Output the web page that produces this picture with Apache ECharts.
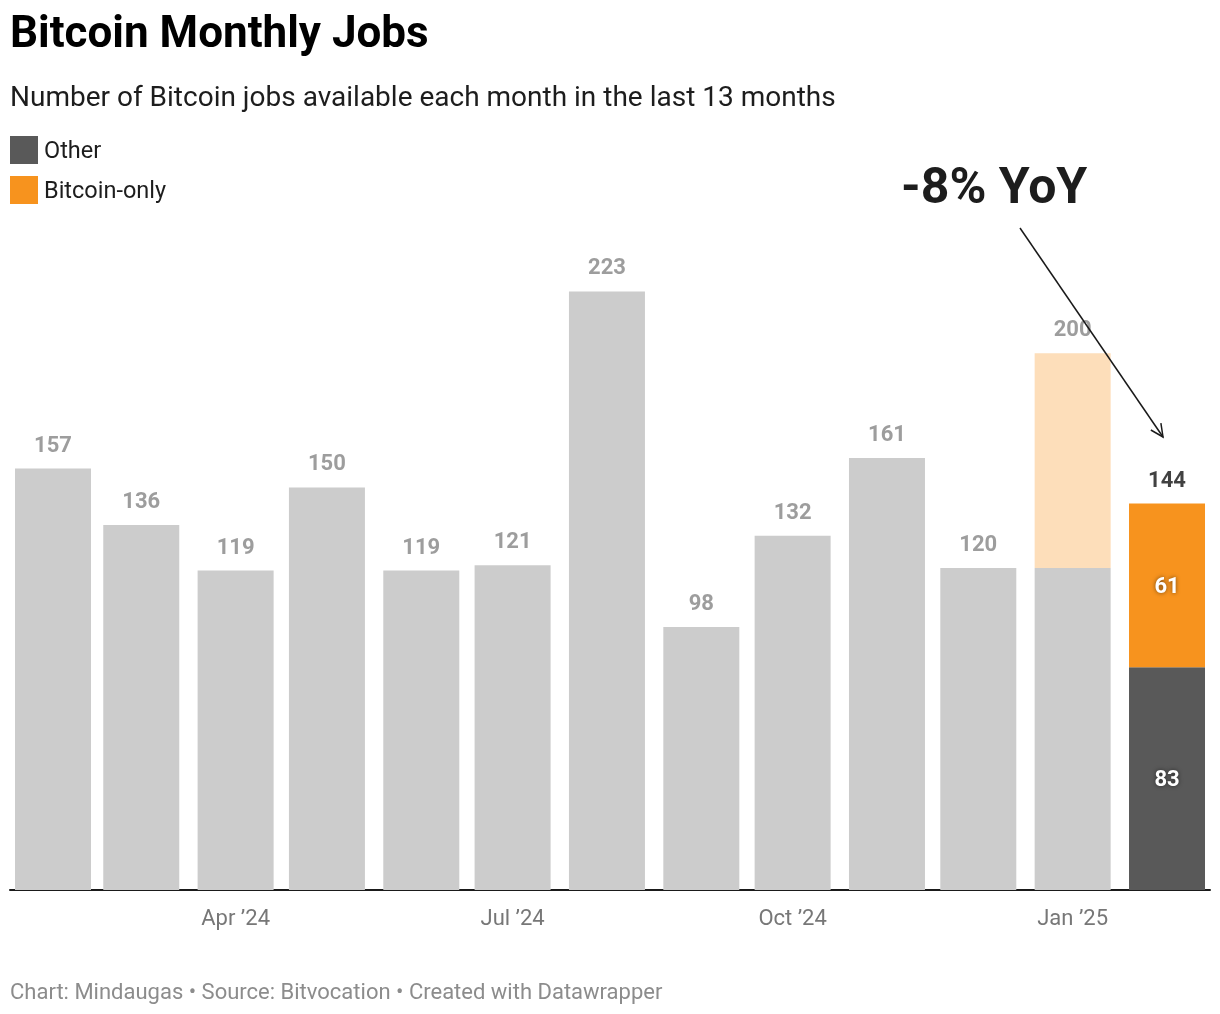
<!DOCTYPE html>
<html>
<head>
<meta charset="utf-8">
<script src="https://cdn.jsdelivr.net/npm/echarts@6/dist/echarts.min.js"></script>
<style>
  html, body { margin: 0; padding: 0; background: #fff; }
  #main { width: 1220px; height: 1014px; }
</style>
</head>
<body>
<div id="main"></div>
<script>
// months shown, first of each month
var months = ['2024-02', '2024-03', '2024-04', '2024-05', '2024-06', '2024-07', '2024-08',
              '2024-09', '2024-10', '2024-11', '2024-12', '2025-01', '2025-02'];
// jobs not tagged bitcoin-only (earlier months are totals, shown in gray)
var otherJobs = [157, 136, 119, 150, 119, 121, 223, 98, 132, 161, 120, 120, 83];
// bitcoin-only jobs, only split out for the last two months
var bitcoinOnly = [null, null, null, null, null, null, null, null, null, null, null, 80, 61];
var monthNames = ['Jan', 'Feb', 'Mar', 'Apr', 'May', 'Jun', 'Jul', 'Aug', 'Sep', 'Oct', 'Nov', 'Dec'];

function toTime(s) {
  var p = s.split('-');
  return new Date(+p[0], +p[1] - 1, 1).getTime();
}

var DAY = 86400000;
var FONT = 'Roboto, "Noto Sans", sans-serif';
var last = months.length - 1;

var otherData = [], btcData = [], totalData = [];
for (var i = 0; i < months.length; i++) {
  var t = toTime(months[i]);
  otherData.push({
    value: [t, otherJobs[i]],
    itemStyle: { color: i == last ? '#595959' : '#cccccc' },
    label: { show: i == last }
  });
  btcData.push({
    value: [t, bitcoinOnly[i] == null ? 0 : bitcoinOnly[i]],
    itemStyle: { color: i == last ? '#f7931e' : '#fddeba' },
    label: { show: i == last }
  });
  totalData.push({
    value: [t, otherJobs[i] + (bitcoinOnly[i] || 0)],
    label: { color: i == last ? '#111111' : '#858585' }
  });
}

// echarts widens the extent by half a bar on each side, this adds the small extra margin
var xMin = toTime(months[0]) - 1.64 * DAY;
var xMax = toTime(months[last]) + 1.64 * DAY;

var insideLabel = {
  position: 'inside',
  offset: [0, 2],
  color: '#fff',
  fontSize: 22,
  fontWeight: 'bold',
  fontFamily: FONT,
  textShadowColor: 'rgba(0,0,0,0.55)',
  textShadowBlur: 4
};

// arrow from the "-8% YoY" note down to the last bar
var a0 = [1020, 228], a1 = [1163, 437];
var dx = a1[0] - a0[0], dy = a1[1] - a0[1];
var len = Math.sqrt(dx * dx + dy * dy);
var ux = dx / len, uy = dy / len;
var hl = 14, ang = Math.PI / 7;
function wing(s) {
  var c = Math.cos(s * ang), sn = Math.sin(s * ang);
  return [a1[0] - hl * (ux * c - uy * sn), a1[1] - hl * (ux * sn + uy * c)];
}

var chart = echarts.init(document.getElementById('main'));
chart.setOption({
  backgroundColor: '#ffffff',
  animation: false,
  title: [{
    text: 'Bitcoin Monthly Jobs',
    left: 10, top: 14, padding: 0,
    textStyle: { fontFamily: FONT, fontSize: 44, fontWeight: 'bold', color: '#000' }
  }, {
    text: 'Number of Bitcoin jobs available each month in the last 13 months',
    left: 10, top: 85, padding: 0,
    textStyle: { fontFamily: FONT, fontSize: 28, fontWeight: 'normal', color: '#1d1d1d' }
  }, {
    text: '-8% YoY',
    left: 901, top: 165, padding: 0,
    textStyle: { fontFamily: FONT, fontSize: 50, fontWeight: 'bold', color: '#1d1d1d' }
  }, {
    text: 'Chart: Mindaugas \u2022 Source: Bitvocation \u2022 Created with Datawrapper',
    left: 10, top: 982, padding: 0,
    textStyle: { fontFamily: FONT, fontSize: 22, fontWeight: 'normal', color: '#8c8c8c' }
  }],
  legend: {
    data: ['Other', 'Bitcoin-only'],
    orient: 'vertical',
    left: 10, top: 136, padding: 0,
    icon: 'rect',
    itemWidth: 28, itemHeight: 28, itemGap: 12,
    selectedMode: false,
    formatter: '{n|{name}}',
    textStyle: {
      fontFamily: FONT, fontSize: 23.5, color: '#1d1d1d',
      rich: { n: { fontFamily: FONT, fontSize: 23.5, color: '#1d1d1d', padding: [4, 0, 0, 1] } }
    }
  },
  grid: { left: 10, right: 10, top: 219, bottom: 124 },
  xAxis: {
    type: 'time',
    min: xMin, max: xMax,
    splitNumber: 4,
    axisLine: { show: true, lineStyle: { color: '#1a1a1a', width: 2 } },
    axisTick: { show: false },
    splitLine: { show: false },
    axisLabel: {
      margin: 18,
      color: '#777777',
      fontFamily: FONT,
      fontSize: 22,
      formatter: function (v) {
        var d = new Date(v);
        if (d.getDate() != 1 || d.getMonth() % 3 != 0) return '';
        return monthNames[d.getMonth()] + ' \u2019' + String(d.getFullYear()).slice(2);
      }
    }
  },
  yAxis: { type: 'value', min: 0, max: 250, show: false, splitLine: { show: false } },
  series: [{
    name: 'Other',
    type: 'bar',
    stack: 'jobs',
    barWidth: 76,
    itemStyle: { color: '#595959' },
    label: insideLabel,
    data: otherData
  }, {
    name: 'Bitcoin-only',
    type: 'bar',
    stack: 'jobs',
    barWidth: 76,
    itemStyle: { color: '#f7931e' },
    label: insideLabel,
    data: btcData
  }, {
    name: 'Total',
    type: 'scatter',
    symbolSize: 1,
    itemStyle: { color: 'rgba(0,0,0,0)' },
    label: {
      show: true,
      position: 'top',
      distance: 11,
      fontFamily: FONT,
      fontSize: 22,
      fontWeight: 'bold',
      formatter: function (p) { return p.value[1]; }
    },
    data: totalData
  }],
  graphic: [{
    type: 'line',
    shape: { x1: a0[0], y1: a0[1], x2: a1[0], y2: a1[1] },
    style: { stroke: '#1a1a1a', lineWidth: 1.5 },
    z: 100
  }, {
    type: 'polyline',
    shape: { points: [wing(1), a1, wing(-1)] },
    style: { stroke: '#1a1a1a', lineWidth: 1.5, fill: null },
    z: 100
  }]
});
</script>
</body>
</html>
